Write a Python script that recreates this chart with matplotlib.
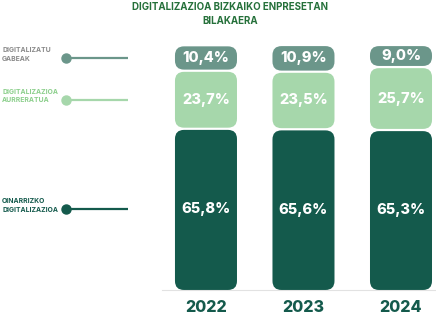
"""
Digitalizazioa Bizkaiko enpresetan - stacked rounded bars
"""
import matplotlib
matplotlib.use("Agg")
import matplotlib.pyplot as plt
from matplotlib.patches import FancyBboxPatch

# data
years = ["2022", "2023", "2024"]
oinarrizko = [65.8, 65.6, 65.3]
aurreratua = [23.7, 23.5, 25.7]
gabeak = [10.4, 10.9, 9.0]

series = [oinarrizko, aurreratua, gabeak]
series_names = ["OINARRIZKO\nDIGITALIZAZIOA", "DIGITALIZAZIOA\nAURRERATUA",
                "DIGITALIZATU\nGABEAK"]
colors = ["#145a4c", "#a6d7ab", "#6b968a"]
label_colors = ["#145a4c", "#8ccf8c", "#8a8a8a"]

plt.rcParams["font.family"] = ["Inter", "DejaVu Sans"]

fig = plt.figure(figsize=(4.36, 3.15), dpi=100)
ax = fig.add_axes([162 / 436, 25 / 315, 274 / 436, 245 / 315])
ax.set_xlim(-0.451, 2.359)
ax.set_ylim(0, 100)
ax.axis("off")

x = list(range(len(years)))
width = 0.636
gap = 0.9          # vertical gap between segments (data units)
radius_px = 9

# pixel -> data scale for rounded corners
px_x = (2.359 + 0.451) / 274
px_y = 100 / 245

bottoms = [0.0] * len(years)
for s, vals in enumerate(series):
    bars = ax.bar(x, vals, width, bottom=bottoms, color="none")
    for i, b in enumerate(bars):
        bx, by, bw, bh = b.get_x(), b.get_y(), b.get_width(), b.get_height()
        y0 = by + (gap / 2 if s > 0 else 0)
        h = bh - gap / 2 - (gap / 2 if s > 0 else 0)
        patch = FancyBboxPatch(
            (bx, y0), bw, h,
            boxstyle=f"round,pad=0,rounding_size={radius_px * px_x}",
            mutation_aspect=px_y / px_x,
            facecolor=colors[s], edgecolor="none")
        ax.add_patch(patch)
        b.remove()
        ax.text(bx + bw / 2, by + bh / 2, f"{vals[i]:.1f}".replace(".", ",") + "%",
                ha="center", va="center", color="white", fontsize=10.5,
                fontweight="heavy")
    # legend line at middle of first bar segment
    yc = bottoms[0] + vals[0] / 2
    ax.plot([-1.436, -0.8], [yc, yc], color=colors[s], lw=1.6,
            solid_capstyle="butt", clip_on=False)
    ax.plot([-1.436], [yc], "o", color=colors[s], ms=6.5, clip_on=False)
    ax.text(-2.09, yc + 1.5, series_names[s], ha="left", va="center",
            color=label_colors[s], fontsize=4.9, fontweight="bold",
            linespacing=1.5, clip_on=False)
    bottoms = [bottoms[i] + vals[i] for i in range(len(years))]

# baseline
ax.plot([-0.451, 2.359], [0, 0], color="#e2e2e2", lw=0.8, clip_on=False)

# year labels
for i, yr in enumerate(years):
    ax.text(i, -7, yr, ha="center", va="center", color="#145a4c",
            fontsize=11.5, fontweight="heavy", clip_on=False)

fig.text(0.528, 0.955, "DIGITALIZAZIOA BIZKAIKO ENPRESETAN\nBILAKAERA",
         ha="center", va="center", color="#25703a", fontsize=7,
         fontweight="bold", linespacing=1.5)

fig.savefig("out.png", dpi=100)
